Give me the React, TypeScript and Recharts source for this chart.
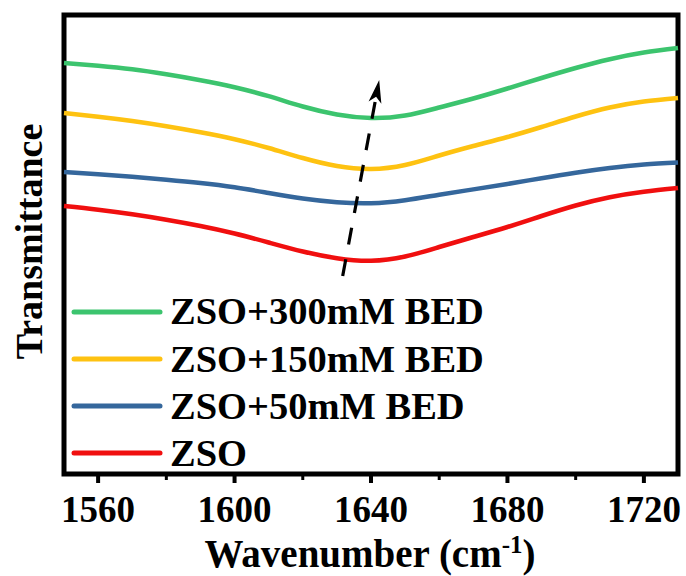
import React from "react";
import { LineChart, Line, XAxis, YAxis, ReferenceArea, ReferenceLine } from "recharts";

// wavenumber grid (cm-1) and transmittance (a.u., offset traces)
const wavenumbers = [1550, 1560, 1570, 1580, 1590, 1600, 1610, 1620, 1630, 1640, 1650, 1660, 1670, 1680, 1690, 1700, 1710, 1720, 1730];
const bed300 = [411, 408.2, 404.7, 399.7, 393.8, 386.8, 377.8, 367.5, 359.5, 356, 358.5, 366.5, 375.5, 385.5, 396, 406, 414.8, 421.5, 426];
const bed150 = [361, 357.3, 353, 347.8, 341.8, 334.8, 326, 316, 308, 305, 309, 318.5, 328, 337, 347, 357.5, 366.5, 372.5, 376];
const bed50 = [302, 299.7, 297.2, 294.3, 291, 286.7, 281, 275.5, 271.8, 270.8, 273.8, 279.3, 284.6, 290, 295.8, 301.3, 306, 309.5, 311.5];
const zso = [268, 264.3, 259.7, 254.3, 248, 240.5, 231.5, 222.5, 215.8, 213.2, 217.5, 227, 237, 247, 258, 268.5, 276.8, 282.3, 286];

const seriesKeys = ["bed300", "bed150", "bed50", "zso"];
const seriesNames = ["ZSO+300mM BED", "ZSO+150mM BED", "ZSO+50mM BED", "ZSO"];
const seriesColors = ["#3cc46e", "#fec211", "#35679c", "#f00f0f"];

const xMajorTicks = [1560, 1600, 1640, 1680, 1720];
const xMinorTicks = [1580, 1620, 1660, 1700];
const rightTicks = [27, 84.7, 142.4, 200.1, 257.8, 315.5, 373.2, 430.9];

// dashed arrow showing the peak shift
const arrowFrom = { x: 1631.7, y: 198 };
const arrowTo = { x: 1642.4, y: 394 };

const data = wavenumbers.map((wn, i) => ({
  wn,
  bed300: bed300[i],
  bed150: bed150[i],
  bed50: bed50[i],
  zso: zso[i],
}));

const font = '"Liberation Serif", "Times New Roman", serif';

function XTick(props: any) {
  const { x, y, payload } = props;
  const major = xMajorTicks.includes(payload.value);
  return (
    <g>
      <line x1={x} x2={x} y1={y} y2={y + (major ? 9 : 6)} stroke="#000" strokeWidth={major ? 4 : 3} />
      {major && (
        <text x={x} y={y + 48} textAnchor="middle" fontFamily={font} fontWeight="bold" fontSize={37} fill="#000">
          {payload.value}
        </text>
      )}
    </g>
  );
}

function XTitle(props: any) {
  const vb = props.viewBox;
  return (
    <text x={vb.x + vb.width / 2 - 1} y={vb.y + 93} textAnchor="middle" fontFamily={font} fontWeight="bold" fontSize={39} fill="#000">
      Wavenumber (cm
      <tspan fontSize={25} dy={-14}>-1</tspan>
      <tspan dy={14}>)</tspan>
    </text>
  );
}

function YTitle(props: any) {
  const vb = props.viewBox;
  const cx = 42;
  const cy = vb.y + vb.height / 2 - 3;
  return (
    <text x={cx} y={cy} transform={`rotate(-90, ${cx}, ${cy})`} textAnchor="middle" fontFamily={font} fontWeight="bold" fontSize={38} fill="#000">
      Transmittance
    </text>
  );
}

function Arrow(props: any) {
  const { x1, y1, x2, y2 } = props;
  const dx = x2 - x1;
  const dy = y2 - y1;
  const len = Math.sqrt(dx * dx + dy * dy);
  const ux = dx / len;
  const uy = dy / len;
  const px = -uy;
  const py = ux;
  const headLen = 23;
  const headW = 6.5;
  const bx = x2 - ux * headLen;
  const by = y2 - uy * headLen;
  const nx = x2 - ux * (headLen - 6);
  const ny = y2 - uy * (headLen - 6);
  return (
    <g>
      <line x1={x1} y1={y1} x2={nx} y2={ny} stroke="#000" strokeWidth={3.2} strokeDasharray="17 15" />
      <polygon
        points={`${x2},${y2} ${bx + px * headW},${by + py * headW} ${nx},${ny} ${bx - px * headW},${by - py * headW}`}
        fill="#000"
      />
    </g>
  );
}

export default function App() {
  return (
    <div style={{ position: "absolute", left: 0, top: 0, width: 686, height: 576, background: "#fff" }}>
      <LineChart width={686} height={576} data={data} margin={{ top: 15, right: 0, bottom: 42, left: 0 }}>
        <XAxis
          dataKey="wn"
          type="number"
          domain={[1550, 1730]}
          ticks={[...xMajorTicks, ...xMinorTicks]}
          interval={0}
          height={60}
          axisLine={false}
          tickLine={false}
          tickSize={0}
          tickMargin={0}
          tick={<XTick />}
          label={XTitle}
        />
        <YAxis yAxisId="l" domain={[0, 459]} width={64} tick={false} tickLine={false} axisLine={false} label={YTitle} />
        <YAxis
          yAxisId="r"
          orientation="right"
          domain={[0, 459]}
          width={8}
          ticks={rightTicks}
          tick={false}
          tickSize={4}
          axisLine={false}
          tickLine={{ stroke: "#000", strokeWidth: 3 }}
        />
        {seriesKeys.map((k, i) => (
          <Line
            key={k}
            yAxisId="l"
            type="natural"
            dataKey={k}
            name={seriesNames[i]}
            stroke={seriesColors[i]}
            strokeWidth={4.5}
            dot={false}
            activeDot={false}
            isAnimationActive={false}
          />
        ))}
        <ReferenceLine yAxisId="l" segment={[arrowFrom, arrowTo]} shape={Arrow} />
        <ReferenceArea yAxisId="l" x1={1550} x2={1730} y1={0} y2={459} fill="none" fillOpacity={0} stroke="#000" strokeWidth={5} />
      </LineChart>
      <div style={{ position: "absolute", left: 70, top: 288 }}>
        {seriesNames.map((name, i) => (
          <div key={name} style={{ display: "flex", alignItems: "center", height: 47.2 }}>
            <svg width={94} height={10}>
              <line x1={4} x2={90} y1={5} y2={5} stroke={seriesColors[i]} strokeWidth={5} strokeLinecap="round" />
            </svg>
            <span style={{ marginLeft: 6, fontFamily: font, fontWeight: "bold", fontSize: 38.5, lineHeight: 1, color: "#000", whiteSpace: "nowrap" }}>
              {name}
            </span>
          </div>
        ))}
      </div>
    </div>
  );
}
